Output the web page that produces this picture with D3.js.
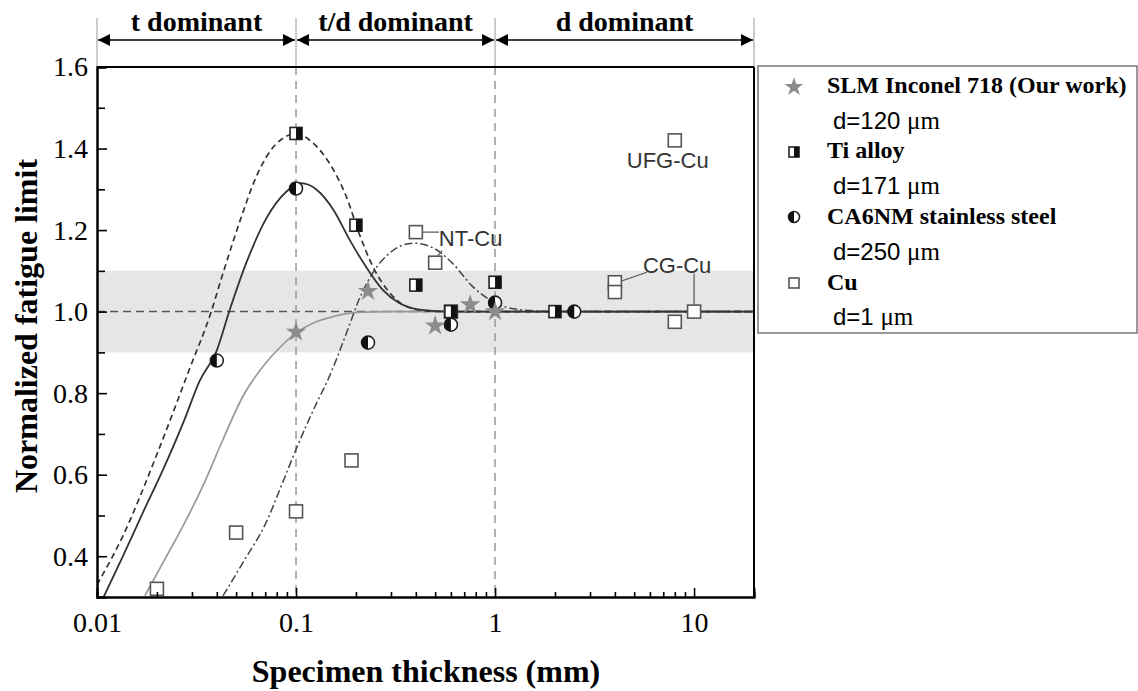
<!DOCTYPE html>
<html><head><meta charset="utf-8">
<script src="https://cdn.jsdelivr.net/npm/d3@7"></script>
<style>body{margin:0;background:#fff;} svg{display:block}</style>
</head><body>
<svg id="chart" width="1138" height="691"></svg>
<script>
// ---------- data ----------
const xMajorTicks = [0.01, 0.1, 1, 10];
const xTickLabels = ["0.01", "0.1", "1", "10"];
const yMajorTicks = [0.4, 0.6, 0.8, 1.0, 1.2, 1.4, 1.6];
const yMinorTicks = [0.5, 0.7, 0.9, 1.1, 1.3, 1.5];
const regionBounds = [0.01, 0.1, 1, 20];
const regionLabels = ["t dominant", "t/d dominant", "d dominant"];
const bandRange = [0.9, 1.1];
const refLevel = 1.0;

const slmPoints = [[0.1,0.95],[0.23,1.05],[0.5,0.965],[0.75,1.017],[1.0,1.0]];
const tiPoints = [[0.1,1.437],[0.2,1.212],[0.4,1.065],[0.6,1.0],[1.0,1.072],[2.0,1.0]];
const ca6Points = [[0.04,0.88],[0.1,1.302],[0.23,0.924],[0.6,0.968],[1.0,1.022],[2.5,1.0]];
const cuPoints = [[0.02,0.32],[0.05,0.458],[0.1,0.51],[0.19,0.635],[0.4,1.195],[0.5,1.12],[0.6,1.0],[4,1.072],[4,1.048],[8,0.975],[10,1.0],[8,1.42]];

const tiCurve = [[0.01,0.33],[0.0135,0.45],[0.02,0.65],[0.0292,0.86],[0.0372,0.995],[0.0427,1.09],[0.0525,1.225],[0.063,1.33],[0.079,1.41],[0.1,1.436],[0.122,1.413],[0.154,1.348],[0.179,1.282],[0.207,1.193],[0.243,1.111],[0.296,1.046],[0.357,1.013],[0.47,1.001],[0.6,1.0],[20,1.0]];
const ca6Curve = [[0.0108,0.30],[0.0135,0.40],[0.017,0.507],[0.0215,0.613],[0.0271,0.727],[0.0328,0.83],[0.04,0.905],[0.0465,1.005],[0.0563,1.12],[0.0708,1.228],[0.0893,1.294],[0.106,1.315],[0.127,1.299],[0.154,1.25],[0.186,1.176],[0.224,1.111],[0.272,1.054],[0.33,1.021],[0.418,1.005],[0.6,1.0],[20,1.0]];
const slmCurve = [[0.0174,0.303],[0.0215,0.385],[0.0271,0.475],[0.0341,0.573],[0.043,0.687],[0.0542,0.793],[0.0708,0.875],[0.083,0.912],[0.099,0.946],[0.122,0.972],[0.154,0.988],[0.2,0.998],[0.3,1.0],[20,1.0]];
const cuCurve = [[0.043,0.303],[0.0542,0.385],[0.0708,0.483],[0.0857,0.581],[0.1,0.662],[0.127,0.776],[0.145,0.834],[0.182,0.956],[0.207,1.029],[0.243,1.095],[0.296,1.144],[0.388,1.168],[0.49,1.156],[0.61,1.119],[0.77,1.062],[0.97,1.025],[1.32,1.005],[2,1.0],[20,1.0]];

const legendNames = ["SLM Inconel 718 (Our work)", "Ti alloy", "CA6NM stainless steel", "Cu"];
const legendSizes = ["d=120 ", "d=171 ", "d=250 ", "d=1 "];
const annotations = [{t:"UFG-Cu", p:[8,1.42]}, {t:"NT-Cu", p:[0.4,1.195]}, {t:"CG-Cu", p:[4,1.072]}];

// ---------- setup ----------
const svg = d3.select("#chart");
const L = 97, R = 754, T = 67, B = 597;
const x = d3.scaleLog().domain([0.01, 20]).range([L, R]);
const y = d3.scaleLinear().domain([0.3, 1.6]).range([B, T]);
const serif = "'Liberation Serif','Times New Roman',serif";
const sans = "'Liberation Sans',Arial,sans-serif";

svg.append("defs").append("clipPath").attr("id","clip")
  .append("rect").attr("x",L).attr("y",T).attr("width",R-L).attr("height",B-T);

// band
svg.append("rect").attr("x",L).attr("y",y(bandRange[1])).attr("width",R-L)
  .attr("height",y(bandRange[0])-y(bandRange[1])).attr("fill","#e6e6e6");

// reference lines
svg.append("line").attr("x1",L).attr("x2",R).attr("y1",y(refLevel)).attr("y2",y(refLevel))
  .attr("stroke","#555").attr("stroke-width",1.5).attr("stroke-dasharray","8,5");
[regionBounds[1], regionBounds[2]].forEach(v=>{
  svg.append("line").attr("x1",x(v)).attr("x2",x(v)).attr("y1",T).attr("y2",B)
    .attr("stroke","#999").attr("stroke-width",1.5).attr("stroke-dasharray","8,6");
});
// top region markers
regionBounds.forEach(v=>{
  svg.append("line").attr("x1",x(v)).attr("x2",x(v)).attr("y1",18).attr("y2",T)
    .attr("stroke","#aaa").attr("stroke-width",1.2);
});
const defs = svg.select("defs");
defs.append("marker").attr("id","ah").attr("viewBox","0 0 10 10").attr("refX",10).attr("refY",5)
  .attr("markerWidth",12).attr("markerHeight",12).attr("markerUnits","userSpaceOnUse").attr("orient","auto-start-reverse")
  .append("path").attr("d","M0,0 L10,5 L0,10 Z").attr("fill","#000");
for (let i=0;i<3;i++){
  const a = x(regionBounds[i]), b = x(regionBounds[i+1]);
  svg.append("line").attr("x1",a+1).attr("x2",b-1).attr("y1",40).attr("y2",40)
    .attr("stroke","#000").attr("stroke-width",1.3)
    .attr("marker-start","url(#ah)").attr("marker-end","url(#ah)");
  svg.append("text").attr("x",(a+b)/2).attr("y",31).attr("text-anchor","middle")
    .attr("font-family",serif).attr("font-weight","bold").attr("font-size",28).text(regionLabels[i]);
}

// curves
const line = d3.line().x(d=>x(d[0])).y(d=>y(d[1])).curve(d3.curveMonotoneX);
const cg = svg.append("g").attr("clip-path","url(#clip)").attr("fill","none");
cg.append("path").datum(slmCurve).attr("d",line).attr("stroke","#999").attr("stroke-width",1.7);
cg.append("path").datum(cuCurve).attr("d",line).attr("stroke","#444").attr("stroke-width",1.5).attr("stroke-dasharray","8,3,2,3");
cg.append("path").datum(ca6Curve).attr("d",line).attr("stroke","#333").attr("stroke-width",1.8);
cg.append("path").datum(tiCurve).attr("d",line).attr("stroke","#333").attr("stroke-width",1.7).attr("stroke-dasharray","6,4");

// marker drawing helpers
function cuMark(g, cx, cy, s){
  g.append("rect").attr("x",cx-s/2).attr("y",cy-s/2).attr("width",s).attr("height",s)
    .attr("fill","#fff").attr("stroke","#555").attr("stroke-width",1.6);
}
function tiMark(g, cx, cy, s){
  g.append("rect").attr("x",cx-s/2).attr("y",cy-s/2).attr("width",s).attr("height",s)
    .attr("fill","#fff").attr("stroke","#222").attr("stroke-width",1.6);
  g.append("rect").attr("x",cx).attr("y",cy-s/2).attr("width",s/2).attr("height",s).attr("fill","#111");
}
function caMark(g, cx, cy, r){
  g.append("circle").attr("cx",cx).attr("cy",cy).attr("r",r).attr("fill","#fff").attr("stroke","#222").attr("stroke-width",1.6);
  g.append("path").attr("d",`M${cx},${cy-r} A${r},${r} 0 0,0 ${cx},${cy+r} Z`).attr("fill","#111");
}
const star = d3.symbol().type(d3.symbolStar);
function starMark(g, cx, cy, size){
  g.append("path").attr("d",star.size(size)()).attr("transform",`translate(${cx},${cy})`).attr("fill","#8c8c8c");
}

// annotations leader lines
const ag = svg.append("g").attr("stroke","#555").attr("stroke-width",1.2);
ag.append("line").attr("x1",x(0.4)+7).attr("x2",x(0.4)+23).attr("y1",y(1.195)).attr("y2",y(1.195));
ag.append("line").attr("x1",x(0.5)+2).attr("x2",x(0.5)+7).attr("y1",y(1.12)-6).attr("y2",y(1.12)-12);
ag.append("line").attr("x1",x(4)+6).attr("x2",x(4)+32).attr("y1",y(1.072)-1).attr("y2",y(1.072)-10);
ag.append("line").attr("x1",x(10)).attr("x2",x(10)).attr("y1",y(1.0)-7).attr("y2",y(1.0)-38);
const at = svg.append("g").attr("font-family",sans).attr("font-size",22).attr("fill","#333");
at.append("text").attr("x",x(8)-48).attr("y",y(1.42)+28).text(annotations[0].t);
at.append("text").attr("x",x(0.4)+23).attr("y",y(1.195)+14).text(annotations[1].t);
at.append("text").attr("x",x(4)+28).attr("y",y(1.072)-9).text(annotations[2].t);

// points
const pg = svg.append("g");
cuPoints.forEach(d=>cuMark(pg, x(d[0]), y(d[1]), 13));
ca6Points.forEach(d=>caMark(pg, x(d[0]), y(d[1]), 6.5));
tiPoints.forEach(d=>tiMark(pg, x(d[0]), y(d[1]), 12));
slmPoints.forEach(d=>starMark(pg, x(d[0]), y(d[1]), 130));

// axes
const minorX = [];
for (let e=-2; e<=1; e++) for (let k=2;k<=9;k++){ const v=k*Math.pow(10,e); if (v<20) minorX.push(v); }
const axStyle = g=>{ g.select(".domain").attr("stroke","#000").attr("stroke-width",2);
  g.selectAll(".tick line").attr("stroke","#000").attr("stroke-width",1.6);
  g.selectAll("text").attr("font-family",serif).attr("font-size",28).attr("fill","#000"); };
svg.append("g").attr("transform",`translate(0,${B})`)
  .call(d3.axisBottom(x).tickValues(minorX).tickSize(-5).tickFormat("")).call(axStyle);
svg.append("g").attr("transform",`translate(0,${B})`)
  .call(d3.axisBottom(x).tickValues(xMajorTicks).tickSize(-9).tickPadding(15).tickFormat((d,i)=>xTickLabels[i])).call(axStyle);
svg.append("g").attr("transform",`translate(${L},0)`)
  .call(d3.axisLeft(y).tickValues(yMinorTicks).tickSize(-8).tickFormat("")).call(axStyle);
svg.append("g").attr("transform",`translate(${L},0)`)
  .call(d3.axisLeft(y).tickValues(yMajorTicks).tickSize(-10).tickPadding(9).tickFormat(d3.format(".1f"))).call(axStyle);
// top & right frame
svg.append("line").attr("x1",L).attr("x2",R).attr("y1",T).attr("y2",T).attr("stroke","#000").attr("stroke-width",2);
svg.append("line").attr("x1",R).attr("x2",R).attr("y1",T).attr("y2",B).attr("stroke","#000").attr("stroke-width",2);

// axis titles
svg.append("text").attr("x",426).attr("y",682).attr("text-anchor","middle")
  .attr("font-family",serif).attr("font-weight","bold").attr("font-size",32).text("Specimen thickness (mm)");
svg.append("text").attr("transform","translate(37,326) rotate(-90)").attr("text-anchor","middle")
  .attr("font-family",serif).attr("font-weight","bold").attr("font-size",32).text("Normalized fatigue limit");

// legend
const lg = svg.append("g");
lg.append("rect").attr("x",758).attr("y",66).attr("width",379).attr("height",267)
  .attr("fill","#fff").attr("stroke","#777").attr("stroke-width",1.5);
const nameY = [93,158,224,290], sizeY = [129,194,260,325], symY = [87,152,217,283];
starMark(lg, 794, symY[0], 110);
tiMark(lg, 794, symY[1], 10);
caMark(lg, 794, symY[2], 5.5);
cuMark(lg, 794, symY[3], 10);
legendNames.forEach((n,i)=>{
  lg.append("text").attr("x",827).attr("y",nameY[i]).attr("font-family",serif).attr("font-weight","bold")
    .attr("font-size",24).text(n);
  const t = lg.append("text").attr("x",833).attr("y",sizeY[i]).attr("font-size",24);
  t.append("tspan").attr("font-family",sans).text(legendSizes[i]);
  t.append("tspan").attr("font-family",serif).attr("font-size",25).text("\u03bcm");
});
</script>
</body></html>
